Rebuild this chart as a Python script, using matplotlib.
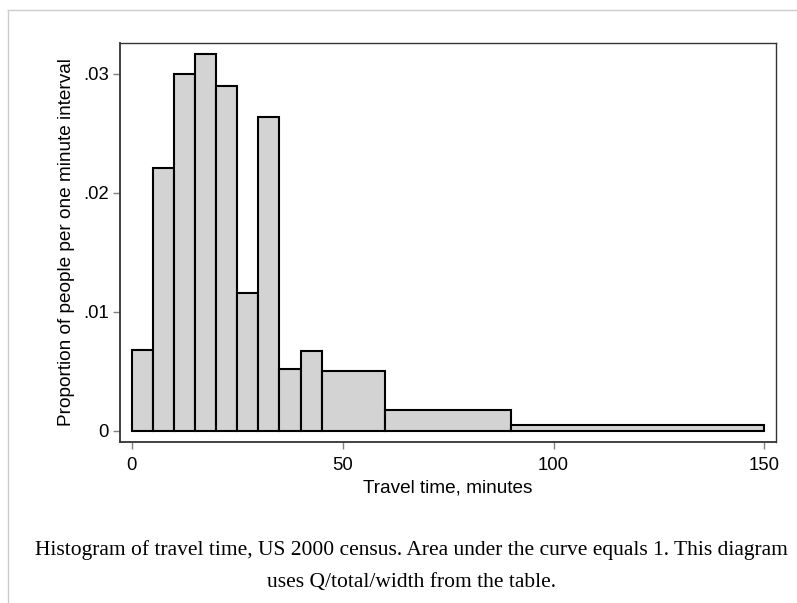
import matplotlib.pyplot as plt
from matplotlib.lines import Line2D

# travel time bins (minutes) and Q/total/width
bin_left = [0, 5, 10, 15, 20, 25, 30, 35, 40, 45, 60, 90]
bin_width = [5, 5, 5, 5, 5, 5, 5, 5, 5, 15, 30, 60]
density = [0.0068, 0.0221, 0.0300, 0.0317, 0.0290, 0.0116, 0.0264,
           0.0052, 0.0067, 0.0050, 0.0018, 0.0005]

xticks = [0, 50, 100, 150]
yticks = [0, 0.01, 0.02, 0.03]
ytick_labels = ["0", ".01", ".02", ".03"]

plt.rcParams["font.family"] = ["Liberation Sans", "DejaVu Sans"]

fig = plt.figure(figsize=(7.97, 6.03), dpi=100)
ax = fig.add_axes([0.1506, 0.2675, 0.8227, 0.6612])

ax.bar(bin_left, density, width=bin_width, align="edge",
       color="#d3d3d3", edgecolor="black", linewidth=1.5)

ax.set_xlim(-2.8, 152.7)
ax.set_ylim(-0.0009, 0.0326)
ax.set_xticks(xticks)
ax.set_yticks(yticks)
ax.set_yticklabels(ytick_labels)
ax.tick_params(axis="both", direction="out", length=5, width=1,
               color="#808080", labelsize=13.3, pad=3)
ax.tick_params(axis="x", pad=6)
for s in ax.spines.values():
    s.set_color("#333333")
    s.set_linewidth(1.0)
ax.spines["left"].set_linewidth(1.3)
ax.spines["bottom"].set_linewidth(1.3)

ax.set_xlabel("Travel time, minutes", fontsize=13.7, labelpad=4)
ax.set_ylabel("Proportion of people per one minute interval", fontsize=13.7, labelpad=6)

# caption below the chart
cap = ["Histogram of travel time, US 2000 census. Area under the curve equals 1. This diagram",
       "uses Q/total/width from the table."]
fig.text(0.516, 1 - 550 / 603, cap[0], ha="center", va="center",
         fontsize=15.5, family="Liberation Serif")
fig.text(0.516, 1 - 582 / 603, cap[1], ha="center", va="center",
         fontsize=15.5, family="Liberation Serif")

# thin frame lines at top and left of the figure
fig.add_artist(Line2D([8 / 797, 1], [1 - 10 / 603, 1 - 10 / 603],
                      transform=fig.transFigure, color="#cccccc", linewidth=1))
fig.add_artist(Line2D([8 / 797, 8 / 797], [0, 1 - 10 / 603],
                      transform=fig.transFigure, color="#cccccc", linewidth=1))

fig.savefig("out.png", dpi=100)
